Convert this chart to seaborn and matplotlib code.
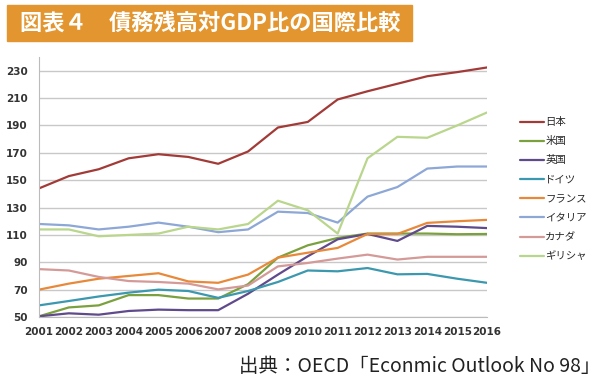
import pandas as pd
import matplotlib
matplotlib.use("Agg")
import matplotlib.pyplot as plt
import seaborn as sns

# data (debt / GDP, %)
years = list(range(2001, 2017))
countries = ["日本", "米国", "英国", "ドイツ", "フランス", "イタリア", "カナダ", "ギリシャ"]
japan   = [144, 153, 158, 166, 169, 167, 162, 171, 188.5, 192.6, 209, 215, 220.5, 226, 229, 232.4]
usa     = [50.5, 57, 58.5, 66, 66, 63.5, 63.5, 74, 93.4, 102.4, 107.8, 111, 111, 111, 110.5, 110.7]
uk      = [50.5, 52.7, 51.7, 54.4, 55.4, 55, 55, 67, 81, 94.4, 106.8, 110.7, 105.6, 116.6, 116, 115]
germany = [58.5, 61.7, 65, 67.8, 70, 69, 64, 69, 75.6, 84, 83.4, 85.8, 81.2, 81.5, 78, 75]
france  = [70, 74.4, 78, 80, 82, 76, 75, 81, 93.4, 97, 100.5, 110.7, 110.7, 118.8, 120, 121]
italy   = [118, 117, 114, 116, 119, 116, 112, 114, 127, 126, 119, 138, 145, 158.5, 160, 160]
canada  = [85, 84, 79.3, 76.3, 75.6, 74.4, 70.2, 73, 87, 89.5, 92.7, 95.6, 92, 94, 94, 94]
greece  = [114, 114, 109, 110, 111, 116, 114, 118, 135, 128, 111, 166, 181.7, 181, 190, 199.5]
colors = ["#A23B38", "#7BA03E", "#5F4A8B", "#3C98AE", "#E8893A", "#8DA7D6", "#D49A98", "#B9D68C"]

series = [japan, usa, uk, germany, france, italy, canada, greece]
df = pd.DataFrame({
    "year": years * len(countries),
    "country": [c for c in countries for _ in years],
    "value": [v for s in series for v in s],
})

sns.set_style("white")
plt.rcParams["font.family"] = ["Noto Sans CJK JP", "DejaVu Sans"]

fig = plt.figure(figsize=(6.08, 3.83), dpi=100)
ax = fig.add_axes([0.0641, 0.1723, 0.7369, 0.6787])

sns.lineplot(data=df, x="year", y="value", hue="country", hue_order=countries,
             palette=colors, linewidth=1.6, ax=ax)

ax.set_xlim(2001, 2016)
ax.set_ylim(50, 240)
ax.set_yticks(range(50, 231, 20))
ax.set_xticks(years)
ax.set_xlabel("")
ax.set_ylabel("")
ax.yaxis.grid(True, color="#C8C8C8", linewidth=1)
ax.set_axisbelow(True)
for s in ["top", "right"]:
    ax.spines[s].set_visible(False)
ax.spines["left"].set_color("#BBBBBB")
ax.spines["bottom"].set_color("#BBBBBB")
ax.tick_params(axis="x", length=3, color="#BBBBBB", pad=4)
ax.tick_params(axis="y", length=0, pad=8)
for lab in ax.get_xticklabels() + ax.get_yticklabels():
    lab.set_family("DejaVu Sans")
    lab.set_fontsize(7.5)
    lab.set_fontweight("bold")
    lab.set_color("#333333")

handles, labels = ax.get_legend_handles_labels()
ax.legend(handles, labels, loc="upper left", bbox_to_anchor=(0.848, 0.705),
          bbox_transform=fig.transFigure, frameon=False, fontsize=7.5,
          handlelength=2.3, handletextpad=0.15, labelspacing=0.88, borderaxespad=0)

# title banner
fig.patches.append(plt.Rectangle((7 / 608, 1 - 41 / 383), 405 / 608, 36 / 383,
                                 transform=fig.transFigure, color="#E3962F", zorder=0))
fig.text(20 / 608, 1 - 23 / 383, "図表４　債務残高対GDP比の国際比較", color="white",
         fontsize=16, fontweight="bold", va="center", ha="left")
fig.text(600 / 608, 1 - 366 / 383, "出典：OECD「Econmic Outlook No 98」", color="#222222",
         fontsize=14, va="center", ha="right")

fig.savefig("out.png", dpi=100)
